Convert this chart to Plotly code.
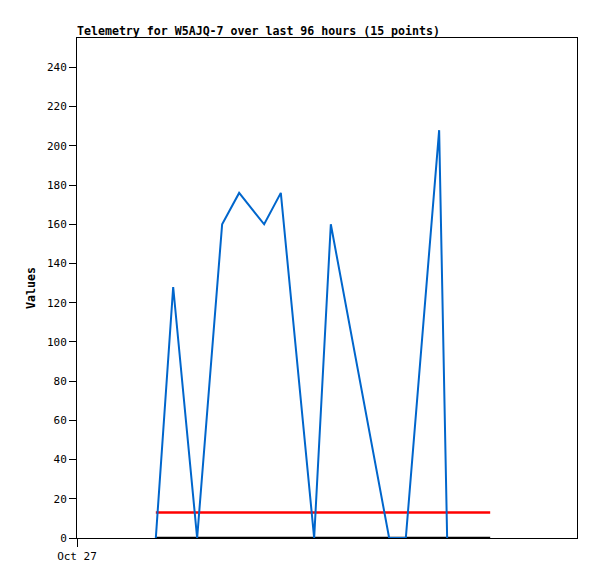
import plotly.graph_objects as go

times = ["2024-10-27 03:47", "2024-10-27 04:37", "2024-10-27 05:46", "2024-10-27 06:58",
         "2024-10-27 07:47", "2024-10-27 08:59", "2024-10-27 09:47", "2024-10-27 11:23",
         "2024-10-27 12:11", "2024-10-27 14:59", "2024-10-27 15:47", "2024-10-27 17:23",
         "2024-10-27 17:46"]
values = [0, 128, 0, 160, 176, 160, 176, 0, 160, 0, 0, 208, 0]

ref_times = ["2024-10-27 03:47", "2024-10-27 19:50"]
red_values = [13, 13]
black_values = [0, 0]

x_range = ["2024-10-27 00:00", "2024-10-28 00:00"]
y_ticks = list(range(0, 241, 20))

font = "DejaVu Sans Mono, Liberation Mono, monospace"
W, H = 589, 571

fig = go.Figure()
fig.add_trace(go.Scatter(x=ref_times, y=black_values, mode="lines",
                         line=dict(color="#000000", width=2.5), showlegend=False, hoverinfo="skip"))
fig.add_trace(go.Scatter(x=ref_times, y=red_values, mode="lines",
                         line=dict(color="#FF0000", width=2.5), showlegend=False))
fig.add_trace(go.Scatter(x=times, y=values, mode="lines",
                         line=dict(color="#0066CC", width=2), showlegend=False))

fig.update_layout(
    width=W, height=H,
    margin=dict(l=69, r=20, t=30, b=41),
    paper_bgcolor="white", plot_bgcolor="white",
    font=dict(family=font, size=11, color="#000000"),
    title=dict(text="<b>Telemetry for W5AJQ-7 over last 96 hours (15 points)</b>",
               x=69/W, xanchor="left", y=1-23/H, yanchor="middle",
               font=dict(family=font, size=11.6, color="#000000")),
    xaxis=dict(type="date", range=x_range, showgrid=False, zeroline=False,
               showline=True, linecolor="#000000", linewidth=1, mirror=True,
               ticks="outside", ticklen=8, tickcolor="#000000",
               tickvals=["2024-10-27 00:00"], ticktext=["Oct 27"],
               tickfont=dict(family=font, size=11)),
    yaxis=dict(range=[0, 255], showgrid=False, zeroline=False,
               showline=True, linecolor="#000000", linewidth=1, mirror=True,
               ticks="outside", ticklen=7, tickcolor="#000000",
               tickvals=y_ticks, tickfont=dict(family=font, size=11),
               title=dict(text="<b>Values</b>", standoff=8,
                          font=dict(family=font, size=11.6))),
)

fig.write_html("out.html")
